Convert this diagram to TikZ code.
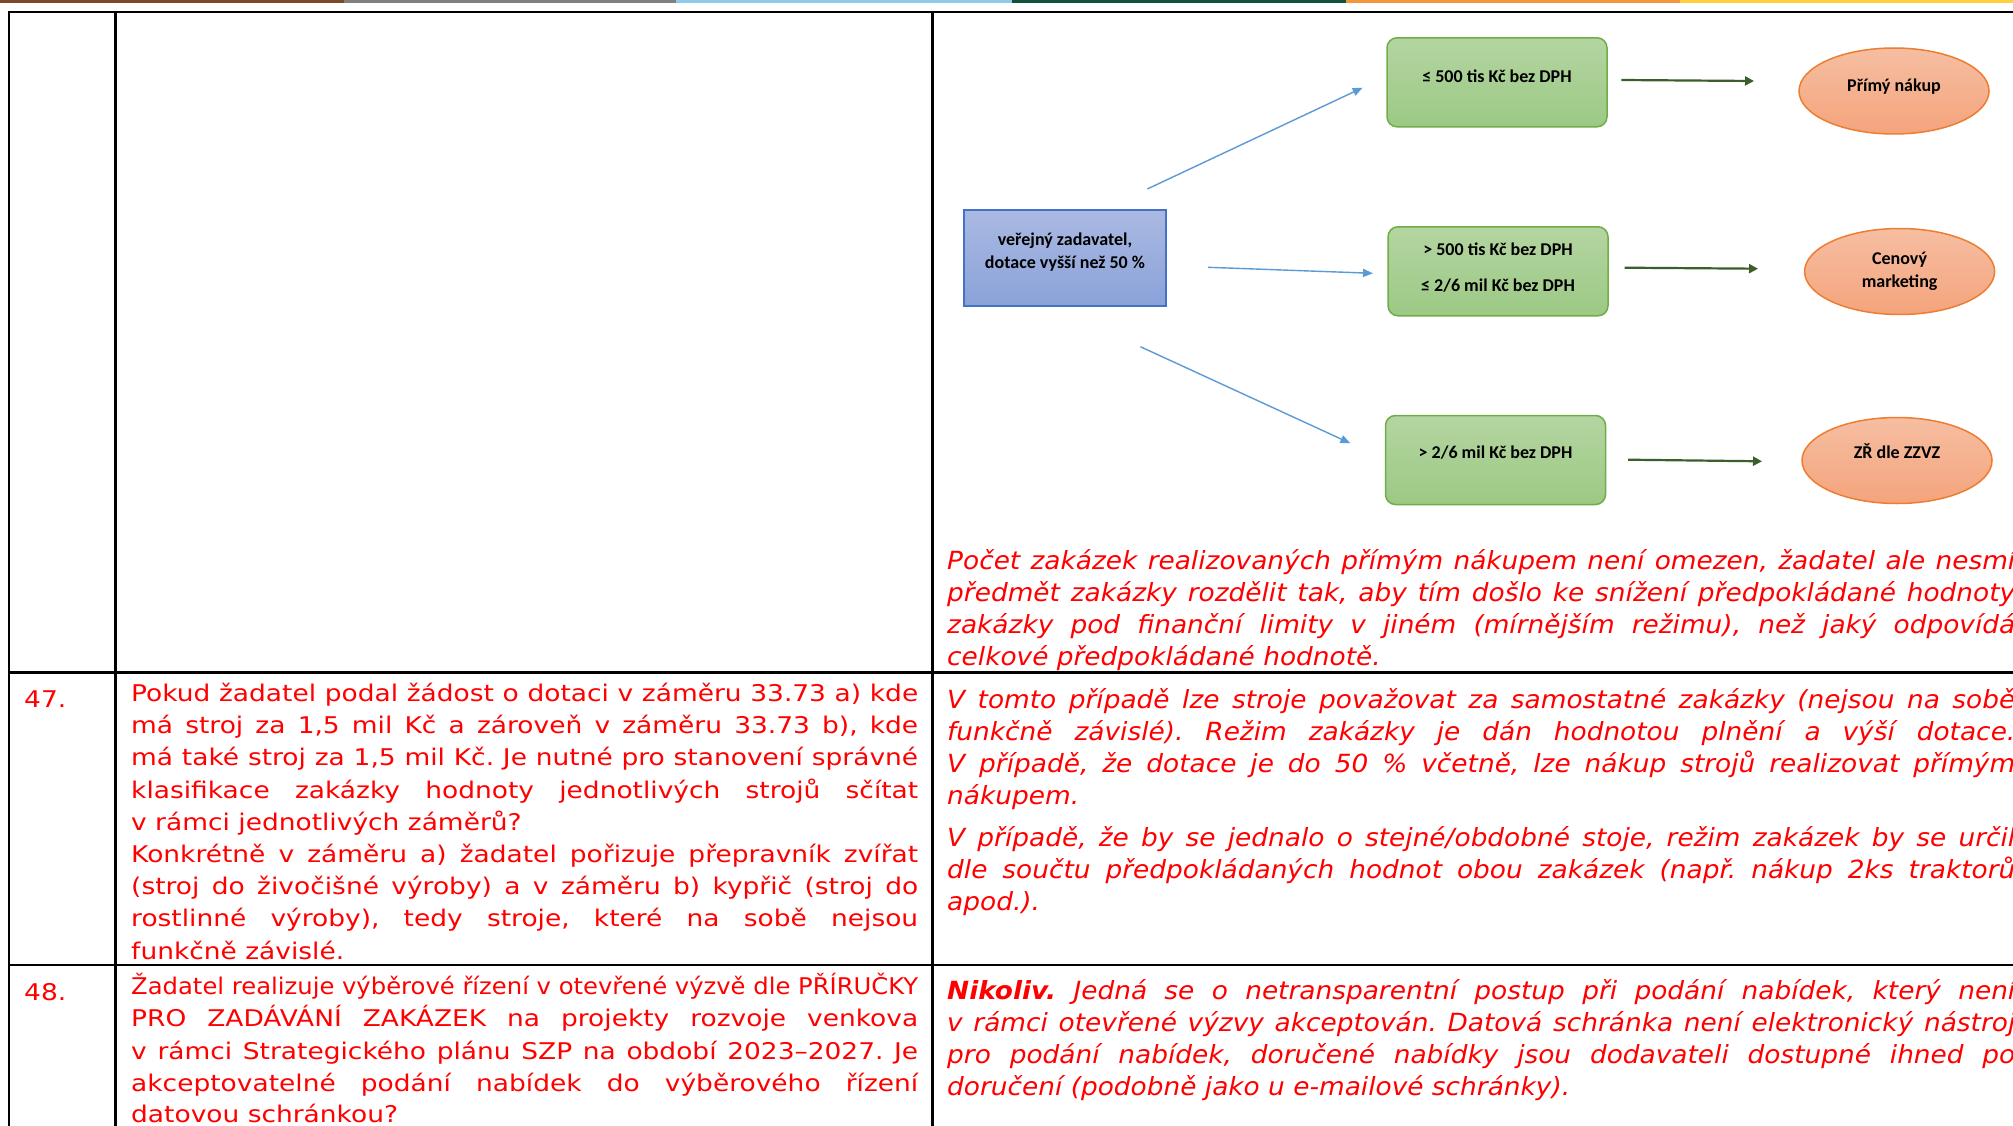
\documentclass[tikz,border=0pt]{standalone}
\usepackage{fontspec}
\usepackage{graphicx}
\setmainfont{DejaVu Sans}
\newfontfamily\qfont{DejaVu Sans}[FakeStretch=1.15]
\newfontfamily\afont{DejaVu Sans}[FakeStretch=1.055]
\newfontfamily\calfont{Carlito}
\usetikzlibrary{arrows.meta,shapes.geometric}
\definecolor{stripbrown}{HTML}{7A4A2A}
\definecolor{stripgray}{HTML}{808080}
\definecolor{stripblue}{HTML}{8CCBEA}
\definecolor{stripgreen}{HTML}{0E5239}
\definecolor{striporange}{HTML}{F2973B}
\definecolor{stripyellow}{HTML}{FFCF3F}
\definecolor{gtop}{HTML}{B4D5A1}
\definecolor{gbot}{HTML}{9CC985}
\definecolor{gline}{HTML}{70AD47}
\definecolor{otop}{HTML}{F6BEA2}
\definecolor{obot}{HTML}{F4A47C}
\definecolor{oline}{HTML}{ED7D31}
\definecolor{btop}{HTML}{AAB9E2}
\definecolor{bbot}{HTML}{8AA2D9}
\definecolor{bline}{HTML}{4472C4}
\definecolor{barrow}{HTML}{5B9BD5}
\definecolor{garrow}{HTML}{3B5E2B}
\newsavebox\jbox
\newcommand{\fitline}[2]{\sbox\jbox{#2}\ifdim\wd\jbox>#1\relax\resizebox{#1}{\height}{\usebox\jbox}\else\makebox[#1][s]{#2}\fi}
\newcommand{\jl}[1]{\fitline{787pt}{#1}}
\newcommand{\jr}[1]{\fitline{1068pt}{#1}}
\frenchspacing
\begin{document}
\begin{tikzpicture}[x=1pt,y=-1pt,
  tline/.style={line width=2.6pt,black},
  colii/.style={anchor=base west,inner sep=0pt,text=red,font=\qfont\fontsize{23}{32}\selectfont},
  coliii/.style={anchor=base west,inner sep=0pt,text=red,font=\afont\fontsize{25}{32}\selectfont\itshape},
  dtext/.style={anchor=base,inner sep=0pt,font=\calfont\bfseries\fontsize{18}{22}\selectfont},
  bluebox/.style={draw=bline,line width=1.5pt,top color=btop,bottom color=bbot,minimum width=202pt,minimum height=96pt,inner sep=0pt},
  greenbox/.style={draw=gline,line width=1.5pt,rounded corners=10pt,top color=gtop,bottom color=gbot,minimum width=220pt,minimum height=89pt,inner sep=0pt},
  orangeell/.style={ellipse,draw=oline,line width=1.5pt,top color=otop,bottom color=obot,minimum width=190pt,minimum height=86pt,inner sep=0pt},
  barr/.style={draw=barrow,line width=1.4pt,-{Triangle[length=10pt,width=8pt]}},
  garr/.style={draw=garrow,line width=2.2pt,-{Triangle[length=9pt,width=9pt]}}
]
\useasboundingbox (0,0) rectangle (2013,1126);
\clip (0,0) rectangle (2013,1126);
\fill[white] (0,0) rectangle (2013,1126);
% top colour strip
\fill[stripbrown] (0,0) rectangle (344,3);
\fill[stripgray] (344,0) rectangle (676,3);
\fill[stripblue] (676,0) rectangle (1012,3);
\fill[stripgreen] (1012,0) rectangle (1346,3);
\fill[striporange] (1346,0) rectangle (1680,3);
\fill[stripyellow] (1680,0) rectangle (2013,3);
% table lines
\draw[tline] (7.7,12) -- (2013,12);
\draw[tline] (9,672.5) -- (2013,672.5);
\draw[tline] (9,965) -- (2013,965);
\draw[tline] (9,12) -- (9,1126);
\draw[tline] (115.5,12) -- (115.5,1126);
\draw[tline] (932.5,12) -- (932.5,1126);
% diagram shapes
\node[bluebox] (pub) at (1065,258) {};
\node[greenbox] (g1) at (1497,82.3) {};
\node[greenbox] (g2) at (1498,271.3) {};
\node[greenbox] (g3) at (1495.5,460) {};
\node[orangeell] (e1) at (1894,91) {};
\node[orangeell] (e2) at (1899.6,271.5) {};
\node[orangeell] (e3) at (1897,460.5) {};
% diagram texts
\node[dtext] (pubt1) at (1065,245) {veřejný zadavatel,};
\node[dtext] (pubt2) at (1065,268.3) {dotace vyšší než 50 \%};
\node[dtext] (g1t) at (1497,82.5) {≤ 500 tis Kč bez DPH};
\node[dtext] (g2t1) at (1498,255) {> 500 tis Kč bez DPH};
\node[dtext] (g2t2) at (1498,291.7) {≤ 2/6 mil Kč bez DPH};
\node[dtext] (g3t) at (1495.5,458.3) {> 2/6 mil Kč bez DPH};
\node[dtext] (e1t) at (1894,92) {Přímý nákup};
\node[dtext] (e2t1) at (1899.6,265) {Cenový};
\node[dtext] (e2t2) at (1899.6,287.7) {marketing};
\node[dtext] (e3t) at (1897,458.3) {ZŘ dle ZZVZ};
% arrows
\coordinate (a1s) at (1147.3,189);
\coordinate (a1e) at (1362.7,87.7);
\coordinate (a2s) at (1208,267.3);
\coordinate (a2e) at (1373,273.3);
\coordinate (a3s) at (1140.4,346.7);
\coordinate (a3e) at (1350.4,443.3);
\coordinate (b1s) at (1621.3,80);
\coordinate (b1e) at (1754,81);
\coordinate (b2s) at (1624.7,267.7);
\coordinate (b2e) at (1758,268.7);
\coordinate (b3s) at (1628,459.7);
\coordinate (b3e) at (1762,461.3);
\draw[barr] (a1s) -- (a1e);
\draw[barr] (a2s) -- (a2e);
\draw[barr] (a3s) -- (a3e);
\draw[garr] (b1s) -- (b1e);
\draw[garr] (b2s) -- (b2e);
\draw[garr] (b3s) -- (b3e);
% column 3, first row
\node[coliii] (r1a) at (947,569.3) {\jr{Počet zakázek realizovaných přímým nákupem není omezen, žadatel ale nesmí}};
\node[coliii] (r1b) at (947,601.5) {\jr{předmět zakázky rozdělit tak, aby tím došlo ke snížení předpokládané hodnoty}};
\node[coliii] (r1c) at (947,633.5) {\jr{zakázky pod finanční limity v jiném (mírnějším režimu), než jaký odpovídá}};
\node[coliii] (r1d) at (947,665.5) {celkové předpokládané hodnotě.};
% row 47
\node[colii] (n47) at (24,707.5) {47.};
\node[colii] (q1) at (131,701.5) {\jl{Pokud žadatel podal žádost o dotaci v záměru 33.73 a) kde}};
\node[colii] (q2) at (131,733.7) {\jl{má stroj za 1,5 mil Kč a zároveň v záměru 33.73 b), kde}};
\node[colii] (q3) at (131,765.9) {\jl{má také stroj za 1,5 mil Kč. Je nutné pro stanovení správné}};
\node[colii] (q4) at (131,798.1) {\jl{klasifikace zakázky hodnoty jednotlivých strojů sčítat}};
\node[colii] (q5) at (131,830.3) {v rámci jednotlivých záměrů?};
\node[colii] (q6) at (131,862.5) {\jl{Konkrétně v záměru a) žadatel pořizuje přepravník zvířat}};
\node[colii] (q7) at (131,894.7) {\jl{(stroj do živočišné výroby) a v záměru b) kypřič (stroj do}};
\node[colii] (q8) at (131,926.9) {\jl{rostlinné výroby), tedy stroje, které na sobě nejsou}};
\node[colii] (q9) at (131,959.1) {funkčně závislé.};
\node[coliii] (a1) at (947,708.3) {\jr{V tomto případě lze stroje považovat za samostatné zakázky (nejsou na sobě}};
\node[coliii] (a2) at (947,740.5) {\jr{funkčně závislé). Režim zakázky je dán hodnotou plnění a výší dotace.}};
\node[coliii] (a3) at (947,772.5) {\jr{V případě, že dotace je do 50 \% včetně, lze nákup strojů realizovat přímým}};
\node[coliii] (a4) at (947,804.5) {nákupem.};
\node[coliii] (a5) at (947,846) {\jr{V případě, že by se jednalo o stejné/obdobné stoje, režim zakázek by se určil}};
\node[coliii] (a6) at (947,878.5) {\jr{dle součtu předpokládaných hodnot obou zakázek (např. nákup 2ks traktorů}};
\node[coliii] (a7) at (947,910.5) {apod.).};
% row 48
\node[colii] (n48) at (24,1000) {48.};
\node[colii] (p1) at (131,994) {\jl{Žadatel realizuje výběrové řízení v otevřené výzvě dle PŘÍRUČKY}};
\node[colii] (p2) at (131,1026.5) {\jl{PRO ZADÁVÁNÍ ZAKÁZEK na projekty rozvoje venkova}};
\node[colii] (p3) at (131,1059) {\jl{v rámci Strategického plánu SZP na období 2023–2027. Je}};
\node[colii] (p4) at (131,1091.5) {\jl{akceptovatelné podání nabídek do výběrového řízení}};
\node[colii] (p5) at (131,1122) {datovou schránkou?};
\node[coliii] (b1) at (947,999) {\jr{{\bfseries Nikoliv.} Jedná se o netransparentní postup při podání nabídek, který není}};
\node[coliii] (b2) at (947,1031) {\jr{v rámci otevřené výzvy akceptován. Datová schránka není elektronický nástroj}};
\node[coliii] (b3) at (947,1063) {\jr{pro podání nabídek, doručené nabídky jsou dodavateli dostupné ihned po}};
\node[coliii] (b4) at (947,1095.5) {doručení (podobně jako u e-mailové schránky).};
\end{tikzpicture}
\end{document}
